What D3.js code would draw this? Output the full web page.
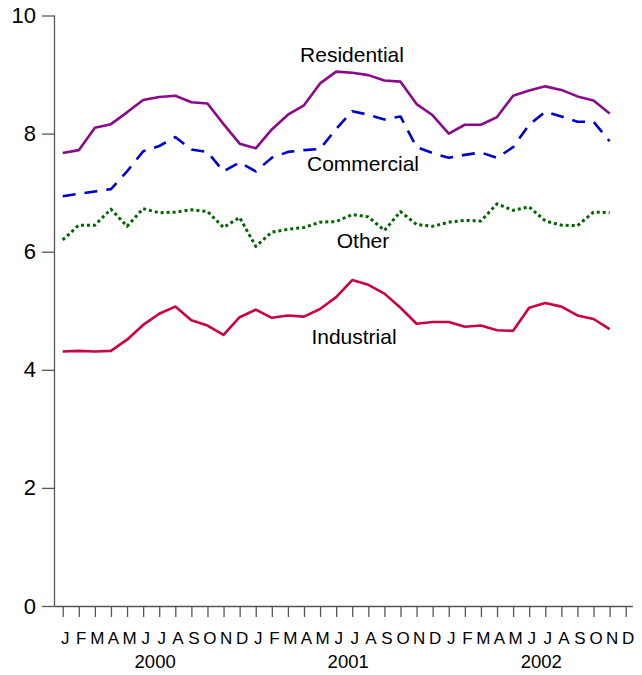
<!DOCTYPE html>
<html><head><meta charset="utf-8">
<script src="https://cdn.jsdelivr.net/npm/d3@7"></script>
<style>body{margin:0;background:#fff}svg{display:block;font-family:"Liberation Sans",Arial,sans-serif}</style>
</head><body>
<script>
const monthLabels = ["J","F","M","A","M","J","J","A","S","O","N","D"];
const years = ["2000","2001","2002"];
const residential = [7.67,7.72,8.10,8.16,8.36,8.57,8.62,8.64,8.53,8.51,8.16,7.83,7.75,8.07,8.32,8.48,8.85,9.05,9.03,8.99,8.90,8.88,8.50,8.31,8.00,8.15,8.15,8.28,8.64,8.73,8.80,8.74,8.63,8.56,8.34];
const commercial = [6.94,6.98,7.02,7.06,7.36,7.70,7.79,7.94,7.73,7.69,7.36,7.51,7.36,7.59,7.69,7.72,7.74,8.08,8.38,8.32,8.24,8.29,7.77,7.67,7.59,7.64,7.68,7.59,7.77,8.15,8.37,8.29,8.20,8.20,7.87];
const other = [6.20,6.45,6.45,6.72,6.43,6.73,6.66,6.67,6.71,6.68,6.41,6.58,6.09,6.33,6.38,6.41,6.50,6.51,6.63,6.59,6.36,6.68,6.46,6.43,6.50,6.53,6.52,6.81,6.70,6.76,6.52,6.45,6.44,6.67,6.66];
const industrial = [4.31,4.32,4.31,4.32,4.51,4.76,4.95,5.07,4.84,4.75,4.59,4.89,5.02,4.88,4.92,4.90,5.03,5.23,5.52,5.44,5.29,5.05,4.78,4.81,4.81,4.73,4.75,4.67,4.66,5.05,5.13,5.07,4.92,4.86,4.69];
const yTicks = [0,2,4,6,8,10];
const seriesNames = ["Residential","Commercial","Other","Industrial"];

const W = 642, H = 675;
const svg = d3.select("body").append("svg").attr("width", W).attr("height", H);
const nMonths = monthLabels.length * years.length;
const x = d3.scaleLinear().domain([0, nMonths - 1]).range([62.7, 625.7]);
const y = d3.scaleLinear().domain([0, 10]).range([606, 15.5]);
const axisColor = "#555";
const FONT = "Liberation Sans, Arial, sans-serif";

// Y axis
const yAxis = svg.append("g").attr("transform", "translate(54.5,0)")
  .call(d3.axisLeft(y).tickValues(yTicks).tickSize(12.5).tickPadding(6).tickFormat(d3.format("d")));
yAxis.select(".domain").attr("stroke", axisColor).attr("stroke-width", 1.3).attr("d", `M0,${y(10)}V${y(0)}`);
yAxis.selectAll(".tick line").attr("stroke", axisColor).attr("stroke-width", 1.3);
yAxis.selectAll(".tick text").attr("font-size", 22).attr("fill", "#000").attr("font-family", FONT);

// X axis
const idx = d3.range(nMonths);
const xAxis = svg.append("g").attr("transform", `translate(0,${y(0)})`)
  .call(d3.axisBottom(x).tickValues(idx).tickSize(11).tickPadding(15).tickFormat(i => monthLabels[i % 12]));
xAxis.select(".domain").attr("stroke", axisColor).attr("stroke-width", 1.3).attr("d", `M54.5,0.5H633`);
xAxis.selectAll(".tick line").attr("stroke", axisColor).attr("stroke-width", 1.3);
xAxis.selectAll(".tick text").attr("font-size", 17).attr("fill", "#000").attr("font-family", FONT).attr("dx", 2);

years.forEach((yr, k) => {
  svg.append("text").attr("x", x(k * 12 + 5.5) + 4).attr("y", 668)
    .attr("text-anchor", "middle").attr("font-size", 18.5).attr("font-family", FONT).text(yr);
});

const line = d3.line().x((d, i) => x(i)).y(d => y(d));
const series = [
  {name: seriesNames[0], data: residential, color: "#8a0a8a", dash: null, w: 2.6},
  {name: seriesNames[1], data: commercial, color: "#0000cc", dash: "13,9", w: 2.6},
  {name: seriesNames[2], data: other, color: "#006400", dash: "3,3", w: 3},
  {name: seriesNames[3], data: industrial, color: "#cc0044", dash: null, w: 2.6}
];
series.forEach(s => {
  svg.append("path").datum(s.data).attr("d", line).attr("fill", "none")
    .attr("stroke", s.color).attr("stroke-width", s.w)
    .attr("stroke-dasharray", s.dash).attr("stroke-linejoin", "round");
});

const labels = [
  {t: seriesNames[0], x: 352, y: 62},
  {t: seriesNames[1], x: 363, y: 171},
  {t: seriesNames[2], x: 363, y: 248},
  {t: seriesNames[3], x: 354, y: 344}
];
labels.forEach(l => {
  svg.append("text").attr("x", l.x).attr("y", l.y).attr("text-anchor", "middle")
    .attr("font-size", 21).attr("font-family", FONT).attr("fill", "#000").text(l.t);
});
</script>
</body></html>
